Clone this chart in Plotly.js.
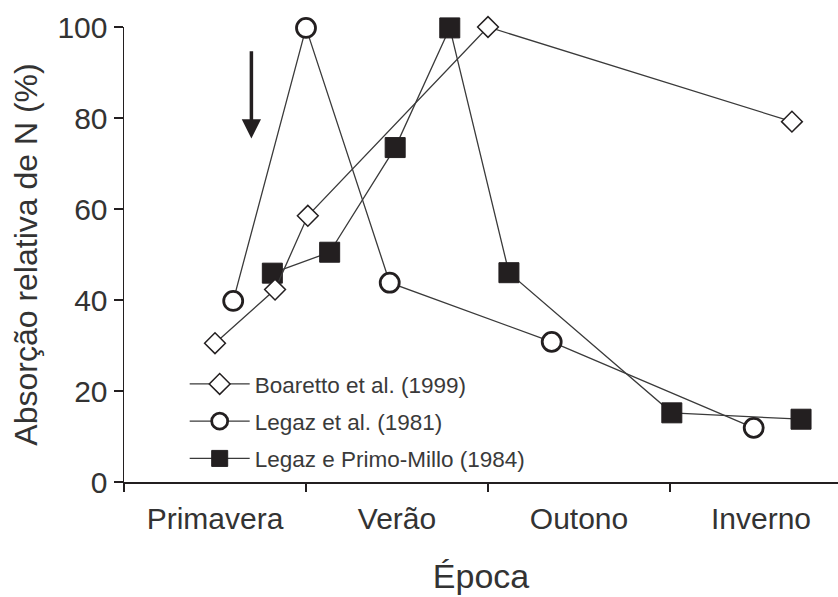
<!DOCTYPE html>
<html>
<head>
<meta charset="utf-8">
<script src="https://cdn.plot.ly/plotly-3.0.1.min.js"></script>
<style>html,body{margin:0;padding:0;background:#fff}#chart{width:838px;height:597px}</style>
</head>
<body>
<div id="chart"></div>
<script>
// Season positions: 0 = start of Primavera, 1 = start of Verão, etc.
const seasonLabels = ['Primavera', 'Verão', 'Outono', 'Inverno'];
const seasonCenters = [0.5, 1.5, 2.5, 3.5];
const seasonBounds = [0, 1, 2, 3, 4];

const xBoaretto = [0.50, 0.83, 1.01, 2.00, 3.67];
const yBoaretto = [30.5, 42.3, 58.5, 100, 79.2];

const xLegaz = [0.60, 1.00, 1.46, 2.35, 3.46];
const yLegaz = [39.8, 99.8, 43.8, 30.8, 11.9];

const xPrimo = [0.815, 1.13, 1.49, 1.79, 2.115, 3.01, 3.72];
const yPrimo = [45.9, 50.5, 73.5, 99.8, 46.0, 15.2, 13.8];

const yTicks = [0, 20, 40, 60, 80, 100];

// arrow annotation (season position, value)
const arrowX = 0.70, arrowTipY = 75.5, arrowTailY = 95;

const dark = '#231f20';
const lineCol = '#3a3a3a';

const traces = [
  {
    x: xBoaretto, y: yBoaretto, name: 'Boaretto et al. (1999)', mode: 'lines+markers',
    legendgroup: 'a', cliponaxis: false,
    line: {color: lineCol, width: 1.3},
    marker: {symbol: 'diamond', size: 16, color: '#ffffff', line: {color: dark, width: 1.5}}
  },
  {
    x: xLegaz, y: yLegaz, name: 'Legaz et al. (1981)', mode: 'lines+markers',
    legendgroup: 'b', cliponaxis: false,
    line: {color: lineCol, width: 1.3},
    marker: {symbol: 'circle', size: 19, color: '#ffffff', line: {color: dark, width: 2.8}}
  },
  {
    x: xPrimo, y: yPrimo, name: 'Legaz e Primo-Millo (1984)', mode: 'lines+markers',
    legendgroup: 'c', cliponaxis: false,
    line: {color: lineCol, width: 1.3},
    marker: {symbol: 'square', size: 20, color: dark, line: {color: dark, width: 1}}
  }
];
// draw squares first, diamonds on top (as in the reference)
const drawOrder = [traces[2], traces[1], traces[0]];
drawOrder[0].legendrank = 3; drawOrder[1].legendrank = 2; drawOrder[2].legendrank = 1;

const layout = {
  width: 838, height: 597,
  margin: {l: 124, r: 0, t: 27, b: 115},
  paper_bgcolor: '#ffffff', plot_bgcolor: '#ffffff',
  font: {family: 'Liberation Sans, Arial, sans-serif', color: '#333333'},
  showlegend: true,
  legend: {
    x: 0.085, y: 0.262, xanchor: 'left', yanchor: 'top',
    bgcolor: 'rgba(0,0,0,0)', font: {size: 22.5, color: '#3a3a3a'},
    tracegroupgap: 5, itemwidth: 60, traceorder: 'grouped'
  },
  xaxis: {
    range: [0, 714 / 182], fixedrange: true,
    showline: true, linecolor: dark, linewidth: 1.5,
    showgrid: false, zeroline: false,
    tickmode: 'array', tickvals: seasonCenters, ticktext: seasonLabels,
    ticks: '', tickfont: {size: 30, color: '#333333'},
    ticklabelstandoff: 9,
    minor: {tickmode: 'array', tickvals: seasonBounds, ticks: 'outside', ticklen: 8, tickwidth: 1.5, tickcolor: dark, showgrid: false},
    title: {text: 'Época', font: {size: 34, color: '#333333'}, standoff: 30}
  },
  yaxis: {
    range: [0, 100], fixedrange: true,
    showline: true, linecolor: dark, linewidth: 1.5,
    showgrid: false, zeroline: false,
    tickmode: 'array', tickvals: yTicks,
    ticks: 'outside', ticklen: 9, tickwidth: 1.5, tickcolor: dark,
    tickfont: {size: 30, color: '#333333'},
    title: {text: 'Absorção relativa de N (%)', font: {size: 32, color: '#333333'}, standoff: 10}
  },
  annotations: [{
    x: arrowX, y: arrowTipY, ax: arrowX, ay: arrowTailY,
    xref: 'x', yref: 'y', axref: 'x', ayref: 'y',
    showarrow: true, arrowhead: 2, arrowsize: 1.1, arrowwidth: 3.5, arrowcolor: dark, text: ''
  }]
};

Plotly.newPlot('chart', drawOrder, layout, {displayModeBar: false, staticPlot: true});
</script>
</body>
</html>
